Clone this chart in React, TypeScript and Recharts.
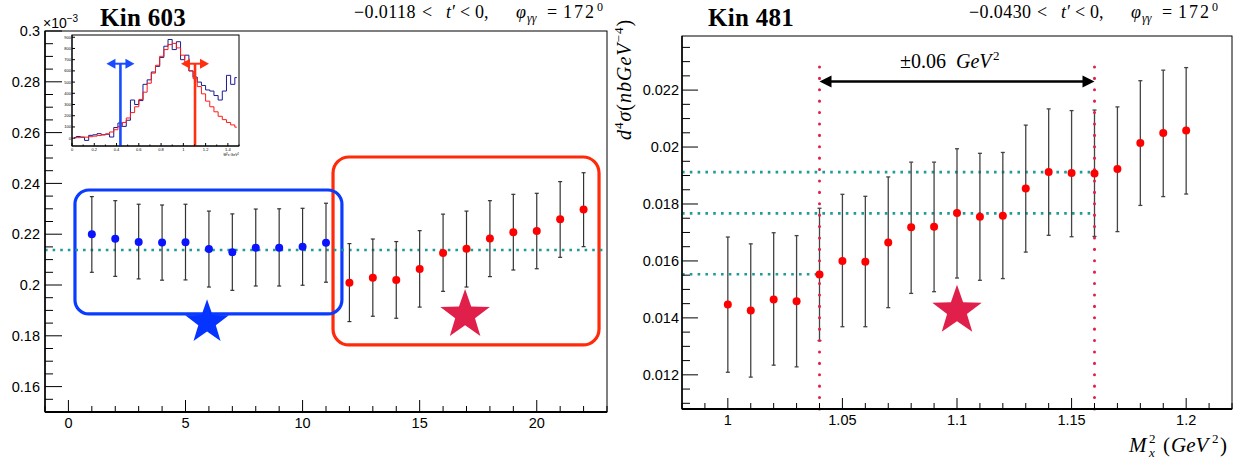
import React from 'react'
import {
  ComposedChart, LineChart, Line, Scatter, ErrorBar, XAxis, YAxis,
  ReferenceLine, ReferenceArea, ReferenceDot,
} from 'recharts'

// ---- Kin 603 (left panel), values x10^-3 ----
const binBlue = [1, 2, 3, 4, 5, 6, 7, 8, 9, 10, 11]
const valBlue = [0.2200, 0.2182, 0.2169, 0.2167, 0.2168, 0.2142, 0.2129, 0.2147, 0.2147, 0.2151, 0.2166]
const loBlue = [0.2050, 0.2034, 0.2024, 0.2019, 0.2020, 0.1992, 0.1979, 0.1996, 0.1996, 0.1999, 0.2011]
const hiBlue = [0.2348, 0.2332, 0.2318, 0.2315, 0.2318, 0.2291, 0.2280, 0.2299, 0.2300, 0.2302, 0.2322]

const binRed = [12, 13, 14, 15, 16, 17, 18, 19, 20, 21, 22]
const valRed = [0.2009, 0.2029, 0.2020, 0.2063, 0.2126, 0.2143, 0.2183, 0.2208, 0.2213, 0.2259, 0.2297]
const loRed = [0.1856, 0.1877, 0.1869, 0.1913, 0.1975, 0.1992, 0.2033, 0.2059, 0.2064, 0.2109, 0.2151]
const hiRed = [0.2163, 0.2181, 0.2171, 0.2214, 0.2279, 0.2291, 0.2332, 0.2357, 0.2361, 0.2407, 0.2442]

const avg603 = 0.2138

// ---- Kin 481 (right panel) ----
const mx2 = [1.00, 1.01, 1.02, 1.03, 1.04, 1.05, 1.06, 1.07, 1.08, 1.09, 1.10, 1.11, 1.12, 1.13, 1.14, 1.15, 1.16, 1.17, 1.18, 1.19, 1.20]
const val481 = [0.01447, 0.01426, 0.01465, 0.01458, 0.01552, 0.01600, 0.01597, 0.01665, 0.01718, 0.01720, 0.01768, 0.01755, 0.01759, 0.01854, 0.01912, 0.01909, 0.01907, 0.01923, 0.02014, 0.02049, 0.02058]
const lo481 = [0.01209, 0.01192, 0.01234, 0.01228, 0.01320, 0.01369, 0.01369, 0.01436, 0.01486, 0.01492, 0.01540, 0.01532, 0.01538, 0.01631, 0.01690, 0.01685, 0.01686, 0.01703, 0.01795, 0.01826, 0.01835]
const hi481 = [0.01684, 0.01660, 0.01699, 0.01689, 0.01785, 0.01834, 0.01827, 0.01895, 0.01947, 0.01947, 0.01994, 0.01978, 0.01981, 0.02077, 0.02134, 0.02128, 0.02130, 0.02141, 0.02233, 0.02270, 0.02279]

const avgHigh481 = 0.01912
const avgMid481 = 0.01767
const avgLow481 = 0.01553
const cutLo = 1.04
const cutHi = 1.16
const arrowY = 0.0223
const cutTop = 0.02298

// ---- inset: M_x^2 distribution ----
const insetBins = [0.019, 0.056, 0.094, 0.131, 0.169, 0.206, 0.244, 0.281, 0.319, 0.356, 0.394, 0.431, 0.469, 0.506, 0.544, 0.581, 0.619, 0.656, 0.694, 0.731, 0.769, 0.806, 0.844, 0.881, 0.919, 0.956, 0.994, 1.031, 1.069, 1.106, 1.144, 1.181, 1.219, 1.256, 1.294, 1.331, 1.369, 1.406, 1.444, 1.481]
const insetData = [5, 15, 10, -20, 25, 30, 40, 30, 35, 10, 95, 135, 105, 160, 340, 300, 335, 480, 520, 590, 640, 720, 820, 880, 790, 860, 700, 740, 600, 545, 500, 470, 430, 420, 380, 340, 420, 560, 480, 540]
const insetMC = [2, 4, 6, 9, 13, 18, 23, 30, 38, 55, 75, 105, 140, 180, 228, 280, 345, 410, 490, 580, 650, 730, 790, 835, 845, 805, 740, 680, 600, 530, 460, 395, 330, 280, 235, 195, 165, 140, 118, 98]
const insetCutLo = 0.435
const insetCutHi = 1.105
const insetArrowY = 664

// tick labels
const leftXMajor = [0, 5, 10, 15, 20]
const rightXMajor = [1, 1.05, 1.1, 1.15, 1.2]
const insetXMajor = [0, 0.2, 0.4, 0.6, 0.8, 1, 1.2, 1.4]

const range = (a: number, b: number, s: number) => {
  const out: number[] = []
  for (let v = a; v <= b + s / 2; v += s) out.push(Number(v.toFixed(5)))
  return out
}
const isMult = (v: number, step: number) => Math.abs(v / step - Math.round(v / step)) < 1e-6
const fmt = (v: number) => String(parseFloat(v.toFixed(4)))

const toRows = (xs: number[], ys: number[], lo: number[], hi: number[]) =>
  xs.map((x, i) => ({ x, y: ys[i], err: [ys[i] - lo[i], hi[i] - ys[i]] }))

const rowsBlue = toRows(binBlue, valBlue, loBlue, hiBlue)
const rowsRed = toRows(binRed, valRed, loRed, hiRed)
const rows481 = toRows(mx2, val481, lo481, hi481)
const insetRows = insetBins.map((m, i) => ({ m, data: insetData[i], mc: insetMC[i] }))

const SANS = 'Liberation Sans, Arial, Helvetica, sans-serif'
const SERIF = 'Liberation Serif, Times New Roman, serif'
const TEAL = '#1e9c98'
const CRIMSON = '#e0204a'

// custom ROOT-like ticks: drawn inward from the axis, labels only on majors
const yTick = (majorStep: number, majorLen: number, minorLen: number, gap: number, size = 14.5) => (p: any) => {
  const major = isMult(p.payload.value, majorStep)
  return (
    <g>
      <line x1={p.x} x2={p.x + (major ? majorLen : minorLen)} y1={p.y} y2={p.y} stroke="#000" strokeWidth={1} />
      {major && (
        <text x={p.x - gap} y={p.y + size * 0.36} textAnchor="end" fontSize={size} fontFamily={SANS} fill="#000">
          {fmt(p.payload.value)}
        </text>
      )}
    </g>
  )
}

const xTick = (majors: number[], majorLen: number, minorLen: number, gap: number, size = 14.5) => (p: any) => {
  const major = majors.some((m) => Math.abs(m - p.payload.value) < 1e-6)
  return (
    <g>
      <line x1={p.x} x2={p.x} y1={p.y} y2={p.y - (major ? majorLen : minorLen)} stroke="#000" strokeWidth={1} />
      {major && (
        <text x={p.x} y={p.y + gap} textAnchor="middle" fontSize={size} fontFamily={SANS} fill="#000">
          {fmt(p.payload.value)}
        </text>
      )}
    </g>
  )
}

const star = (R: number, color: string) => (p: any) => {
  const pts: string[] = []
  for (let i = 0; i < 10; i++) {
    const r = i % 2 === 0 ? R : R * 0.4
    const a = -Math.PI / 2 + (i * Math.PI) / 5
    pts.push(`${p.cx + r * Math.cos(a)},${p.cy + r * Math.sin(a)}`)
  }
  return <polygon points={pts.join(' ')} fill={color} />
}

const roundBox = (color: string, rx: number) => (p: any) => (
  <rect x={p.x} y={p.y} width={p.width} height={p.height} rx={rx} fill="none" stroke={color} strokeWidth={3.2} />
)

const frame = (p: any) => (
  <rect x={p.x} y={p.y} width={p.width} height={p.height} fill="none" stroke="#000" strokeWidth={1} />
)

const dot = (color: string, r: number) => (p: any) => <circle cx={p.cx} cy={p.cy} r={r} fill={color} />

const doubleArrow = (p: any) => {
  const { x1, x2, y1 } = p
  return (
    <g>
      <line x1={x1 + 8} x2={x2 - 8} y1={y1} y2={y1} stroke="#000" strokeWidth={2.5} />
      <polygon points={`${x1},${y1} ${x1 + 12},${y1 - 6} ${x1 + 12},${y1 + 6}`} fill="#000" />
      <polygon points={`${x2},${y1} ${x2 - 12},${y1 - 6} ${x2 - 12},${y1 + 6}`} fill="#000" />
    </g>
  )
}

const smallArrow = (color: string) => (p: any) => {
  const { cx, cy } = p
  return (
    <g>
      <line x1={cx - 6} x2={cx + 6} y1={cy} y2={cy} stroke={color} strokeWidth={2} />
      <polygon points={`${cx - 14},${cy} ${cx - 5},${cy - 5} ${cx - 5},${cy + 5}`} fill={color} />
      <polygon points={`${cx + 14},${cy} ${cx + 5},${cy - 5} ${cx + 5},${cy + 5}`} fill={color} />
    </g>
  )
}

function LeftPanel() {
  return (
    <ComposedChart width={620} height={462} margin={{ top: 31, right: 13, bottom: 0, left: 0 }}>
      <XAxis type="number" dataKey="x" domain={[-1, 23]} allowDataOverflow ticks={range(-1, 23, 1)} interval={0}
        height={50} tickSize={0} tickMargin={0} tickLine={false} stroke="#000" strokeWidth={1.8}
        tick={xTick(leftXMajor, 12, 6, 16)} />
      <YAxis type="number" dataKey="y" domain={[0.15, 0.3]} allowDataOverflow ticks={range(0.15, 0.3, 0.005)} interval={0}
        width={45} tickSize={0} tickMargin={0} tickLine={false} stroke="#000" strokeWidth={1.5}
        tick={yTick(0.02, 17, 8, 5)} />
      <ReferenceArea x1={-1} x2={23} y1={0.15} y2={0.3} ifOverflow="visible" shape={frame} />
      <ReferenceLine y={avg603} stroke={TEAL} strokeWidth={2.6} strokeDasharray="2.6 5" />
      <ReferenceArea x1={11.3} x2={22.66} y1={0.1764} y2={0.2504} ifOverflow="visible" shape={roundBox('#ff2a0a', 16)} />
      <ReferenceArea x1={0.28} x2={11.68} y1={0.1886} y2={0.2374} ifOverflow="visible" shape={roundBox('#0a3cff', 14)} />
      <ReferenceDot x={5.92} y={0.1853} ifOverflow="visible" shape={star(23, '#0533ff')} />
      <ReferenceDot x={16.94} y={0.1882} ifOverflow="visible" shape={star(26, CRIMSON)} />
      <Scatter data={rowsBlue} dataKey="y" isAnimationActive={false} shape={dot('#0a14ff', 4)}>
        <ErrorBar dataKey="err" direction="y" width={2} stroke="#333" strokeWidth={1.2} isAnimationActive={false} />
      </Scatter>
      <Scatter data={rowsRed} dataKey="y" isAnimationActive={false} shape={dot('#ff0000', 4)}>
        <ErrorBar dataKey="err" direction="y" width={2} stroke="#333" strokeWidth={1.2} isAnimationActive={false} />
      </Scatter>
    </ComposedChart>
  )
}

function Inset() {
  return (
    <LineChart width={178} height={122} data={insetRows} margin={{ top: 2, right: 3, bottom: 0, left: 0 }}>
      <XAxis type="number" dataKey="m" domain={[0, 1.5]} allowDataOverflow ticks={range(0, 1.5, 0.1)} interval={0}
        height={9} tickSize={0} tickMargin={0} tickLine={false} stroke="#000"
        tick={xTick(insetXMajor, 3, 1.5, 5, 4)} />
      <YAxis type="number" domain={[-70, 920]} allowDataOverflow ticks={range(0, 900, 100)} interval={0}
        width={8} tickSize={0} tickMargin={0} tickLine={false} stroke="#000"
        tick={yTick(100, 3, 1.5, 1, 4)} />
      <ReferenceArea x1={0} x2={1.5} y1={-70} y2={920} ifOverflow="visible" shape={frame} />
      <Line type="step" dataKey="data" stroke="#1c1c90" strokeWidth={1} dot={false} isAnimationActive={false} />
      <Line type="step" dataKey="mc" stroke="#ff1a1a" strokeWidth={1} dot={false} isAnimationActive={false} />
      <ReferenceLine segment={[{ x: insetCutLo, y: -70 }, { x: insetCutLo, y: insetArrowY }]} stroke="#1a4cff" strokeWidth={2.6} />
      <ReferenceLine segment={[{ x: insetCutHi, y: -70 }, { x: insetCutHi, y: insetArrowY }]} stroke="#ff3010" strokeWidth={2.6} />
      <ReferenceDot x={insetCutLo} y={insetArrowY} ifOverflow="visible" shape={smallArrow('#1a4cff')} />
      <ReferenceDot x={insetCutHi} y={insetArrowY} ifOverflow="visible" shape={smallArrow('#ff3010')} />
    </LineChart>
  )
}

function RightPanel() {
  return (
    <ComposedChart width={625} height={462} margin={{ top: 36, right: 13, bottom: 0, left: 0 }}>
      <XAxis type="number" dataKey="x" domain={[0.98, 1.22]} allowDataOverflow ticks={range(0.98, 1.22, 0.01)} interval={0}
        height={53} tickSize={0} tickMargin={0} tickLine={false} stroke="#000" strokeWidth={1.8}
        tick={xTick(rightXMajor, 11, 6, 16)} />
      <YAxis type="number" dataKey="y" domain={[0.0108, 0.0239]} allowDataOverflow ticks={range(0.011, 0.0235, 0.0005)} interval={0}
        width={62} tickSize={0} tickMargin={0} tickLine={false} stroke="#000" strokeWidth={1.5}
        tick={yTick(0.002, 16, 8, 3)} />
      <ReferenceArea x1={0.98} x2={1.22} y1={0.0108} y2={0.0239} ifOverflow="visible" shape={frame} />
      <ReferenceLine segment={[{ x: 0.98, y: avgHigh481 }, { x: cutHi, y: avgHigh481 }]} stroke={TEAL} strokeWidth={2.6} strokeDasharray="2.6 5.2" />
      <ReferenceLine segment={[{ x: 0.98, y: avgMid481 }, { x: cutHi, y: avgMid481 }]} stroke={TEAL} strokeWidth={2.6} strokeDasharray="2.6 5.2" />
      <ReferenceLine segment={[{ x: 0.98, y: avgLow481 }, { x: cutLo, y: avgLow481 }]} stroke={TEAL} strokeWidth={2.6} strokeDasharray="2.6 5.2" />
      <ReferenceDot x={1.1} y={0.01425} ifOverflow="visible" shape={star(26, CRIMSON)} />
      <Scatter data={rows481} dataKey="y" isAnimationActive={false} shape={dot('#ff0000', 4)}>
        <ErrorBar dataKey="err" direction="y" width={2} stroke="#444" strokeWidth={1.3} isAnimationActive={false} />
      </Scatter>
      <ReferenceLine segment={[{ x: cutLo, y: 0.0108 }, { x: cutLo, y: cutTop }]} stroke={CRIMSON} strokeWidth={3} strokeDasharray="0.1 11.3" strokeLinecap="round" />
      <ReferenceLine segment={[{ x: cutHi, y: 0.0108 }, { x: cutHi, y: cutTop }]} stroke={CRIMSON} strokeWidth={3} strokeDasharray="0.1 11.3" strokeLinecap="round" />
      <ReferenceLine segment={[{ x: cutLo, y: arrowY }, { x: cutHi, y: arrowY }]} ifOverflow="visible" shape={doubleArrow} />
    </ComposedChart>
  )
}

// "−0.0118 < t′ < 0,   φγγ = 172⁰" laid out piece by piece, as ROOT's TLatex spaces it
function RangeText({ x0, cut }: { x0: number; cut: string }) {
  const y = 18
  const t = { fontSize: 18, fontFamily: SERIF, fill: '#000' }
  return (
    <g>
      <text x={x0} y={y} {...t} letterSpacing={0.4}>−{cut}</text>
      <text x={x0 + 68} y={y} {...t}>&lt;</text>
      <text x={x0 + 92} y={y} {...t} fontStyle="italic">t</text>
      <text x={x0 + 98} y={y} {...t}>′</text>
      <text x={x0 + 106} y={y} {...t}>&lt;</text>
      <text x={x0 + 121} y={y} {...t}>0,</text>
      <text x={x0 + 162} y={y} {...t} fontStyle="italic">φ</text>
      <text x={x0 + 173} y={y + 4} {...t} fontSize={12} fontStyle="italic">γγ</text>
      <text x={x0 + 193} y={y} {...t}>=</text>
      <text x={x0 + 209} y={y} {...t} letterSpacing={2}>172</text>
      <text x={x0 + 243} y={y - 7} {...t} fontSize={12}>0</text>
    </g>
  )
}

function Labels() {
  const serif = { fontFamily: SERIF, fill: '#000' }
  return (
    <svg width={1245} height={462} style={{ position: 'absolute', left: 0, top: 0, pointerEvents: 'none' }}>
      <text x={100} y={26} fontSize={25} fontWeight={900} letterSpacing={0.3} {...serif}>Kin 603</text>
      <text x={708} y={26} fontSize={25} fontWeight={900} letterSpacing={0.3} {...serif}>Kin 481</text>
      <text x={43} y={28} fontSize={14} fontFamily={SANS} fill="#000">
        ×10<tspan dy={-6} fontSize={10}>−3</tspan>
      </text>
      <RangeText x0={354} cut="0.0118" />
      <RangeText x0={969} cut="0.0430" />
      <text x={900} y={68} fontSize={20} {...serif}>±0.06</text>
      <text x={956} y={68} fontSize={20} fontStyle="italic" {...serif}>GeV</text>
      <text x={993} y={60} fontSize={13} {...serif}>2</text>
      <text x={1129} y={452} fontSize={21} fontStyle="italic" {...serif}>M</text>
      <text x={1149} y={443} fontSize={13} {...serif}>2</text>
      <text x={1149} y={457} fontSize={13} fontStyle="italic" {...serif}>x</text>
      <text x={1163} y={452} fontSize={21} {...serif}>(</text>
      <text x={1171} y={452} fontSize={21} fontStyle="italic" {...serif}>GeV</text>
      <text x={1212} y={443} fontSize={13} {...serif}>2</text>
      <text x={1220} y={452} fontSize={21} {...serif}>)</text>
      <text transform="translate(631,140) rotate(-90)" fontSize={20} fontStyle="italic" letterSpacing={1} {...serif}>
        d<tspan dy={-8} fontSize={13} fontStyle="normal">4</tspan><tspan dy={8}>σ</tspan>
        <tspan fontStyle="normal">(</tspan>nbGeV<tspan dy={-8} fontSize={13} fontStyle="normal">−4</tspan>
        <tspan dy={8} fontStyle="normal">)</tspan>
      </text>
      <text x={239} y={156} textAnchor="end" fontSize={3.5} fontFamily={SANS} fill="#000">
        M<tspan dy={-1.2} fontSize={2.6}>2</tspan><tspan dy={1.2}>x GeV</tspan><tspan dy={-1.2} fontSize={2.6}>2</tspan>
      </text>
    </svg>
  )
}

export default function App() {
  return (
    <div style={{ position: 'fixed', left: 0, top: 0, width: 1245, height: 462, background: '#fff' }}>
      <div style={{ position: 'absolute', left: 0, top: 0 }}>
        <LeftPanel />
      </div>
      <div style={{ position: 'absolute', left: 64, top: 33, background: '#fff' }}>
        <Inset />
      </div>
      <div style={{ position: 'absolute', left: 620, top: 0 }}>
        <RightPanel />
      </div>
      <Labels />
    </div>
  )
}
